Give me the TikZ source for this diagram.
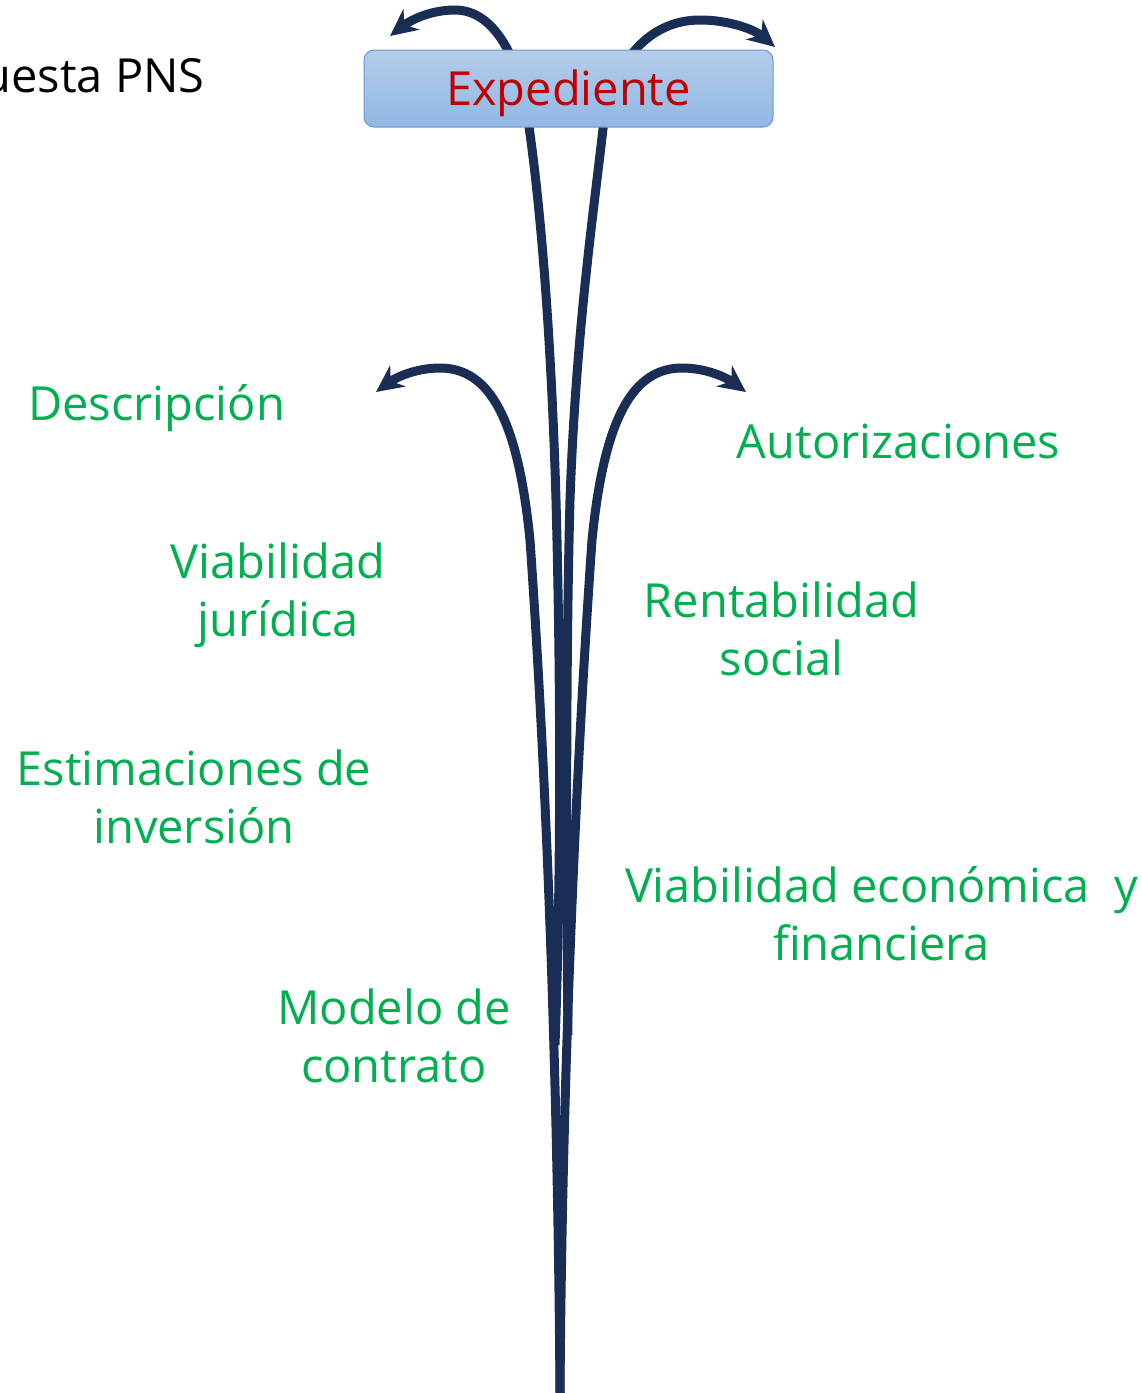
\documentclass[tikz,border=0pt]{standalone}
\usepackage{fontspec}
\setmainfont{Open Sans}
\usetikzlibrary{arrows.meta}
\definecolor{navy}{RGB}{25,45,85}
\definecolor{txtgreen}{RGB}{0,176,80}
\definecolor{txtred}{RGB}{192,0,0}
\definecolor{boxtop}{RGB}{180,204,234}
\definecolor{boxbot}{RGB}{145,184,228}
\definecolor{boxline}{RGB}{105,152,206}
\begin{document}
\begin{tikzpicture}[x=1pt,y=-1pt,
  flow/.style={draw=navy, line width=9pt},
  flowarrow/.style={flow, -{Stealth[length=27pt,width=26pt]}},
  lbl/.style={text=txtgreen, font=\fontsize{47}{58}\selectfont, align=center, inner sep=0pt, anchor=base},
]
\useasboundingbox (0,0) rectangle (1142,1393);

% named end points of the flows
\coordinate (bot) at (560,1393);
\coordinate (ulstart) at (555,1045);
\coordinate (urstart) at (568,1035);
\coordinate (ultip) at (390,36);
\coordinate (urtip) at (775,47);
\coordinate (lltip) at (376,392);
\coordinate (lrtip) at (746,392);

% lower flows
\draw[flowarrow] (bot) .. controls (558,1100) and (548,800) .. (530,540)
  .. controls (518,420) and (490,368) .. (440,368)
  .. controls (415,368) and (395,378) .. (lltip);
\draw[flowarrow] (bot) .. controls (562,1100) and (574,800) .. (592,540)
  .. controls (604,420) and (632,368) .. (682,368)
  .. controls (707,368) and (727,378) .. (lrtip);

% upper flows
\draw[flowarrow] (ulstart) .. controls (562,850) and (560,650) .. (556,500)
  .. controls (551,330) and (540,200) .. (528,120)
  .. controls (520,60) and (495,10) .. (455,10)
  .. controls (428,10) and (408,22) .. (ultip);
\draw[flowarrow] (urstart) .. controls (566,850) and (566,650) .. (570,500)
  .. controls (576,330) and (594,210) .. (604,120)
  .. controls (615,60) and (650,20) .. (700,20)
  .. controls (730,20) and (755,30) .. (urtip);

% box
\node[draw=boxline, line width=1pt, rounded corners=10pt, top color=boxtop, bottom color=boxbot,
  minimum width=409pt, minimum height=77pt, inner sep=0pt] (box) at (568.5,88.5) {};
\node[text=txtred, font=\fontsize{47}{58}\selectfont, inner sep=0pt, anchor=base] (exp) at (568.5,105) {Expediente};

\node[font=\fontsize{47}{58}\selectfont, inner sep=0pt, anchor=base east] (pns) at (205,92) {uesta PNS};

% multi-line labels are anchored at the baseline of their last line
\node[lbl] (desc) at (156.5,420) {Descripción};
\node[lbl] (aut) at (898.5,458) {Autorizaciones};
\node[lbl] (vj) at (278,636) {Viabilidad\\jurídica};
\node[lbl] (rs) at (781.5,675) {Rentabilidad\\social};
\node[lbl] (ei) at (194,843) {Estimaciones de\\inversión};
\node[lbl] (vef) at (881.5,960) {Viabilidad económica~~y\\financiera};
\node[lbl] (mc) at (394,1082) {Modelo de\\contrato};
\end{tikzpicture}
\end{document}
